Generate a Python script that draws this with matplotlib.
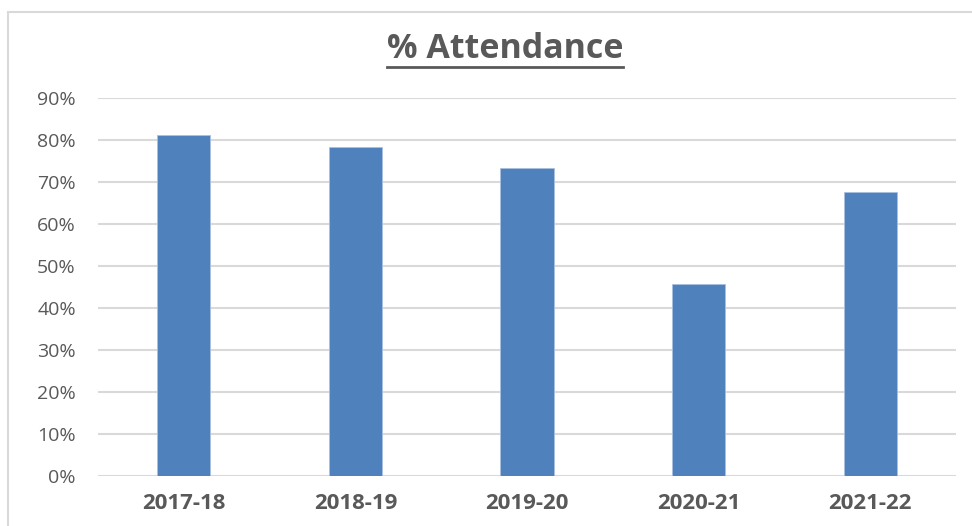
import matplotlib.pyplot as plt
from matplotlib.patches import Rectangle

seasons = ['2017-18', '2018-19', '2019-20', '2020-21', '2021-22']
attendance = [81.2, 78.3, 73.3, 45.7, 67.6]
y_ticks = [0, 10, 20, 30, 40, 50, 60, 70, 80, 90]

grey = '#595959'
bar_colour = '#4F81BD'

plt.rcParams['font.family'] = ['Open Sans', 'DejaVu Sans']

fig = plt.figure(figsize=(9.72, 5.26), dpi=100)
ax = fig.add_axes([98 / 972, 1 - 476 / 526, 858 / 972, 378 / 526])

# chart frame (only top/left visible in the crop)
fig.patches.append(Rectangle((7.5 / 972, -0.1), 1.2, 1 - 11.5 / 526 + 0.1,
                             transform=fig.transFigure, fill=False,
                             edgecolor='#D9D9D9', linewidth=1.5))

ax.bar(range(len(seasons)), attendance, width=0.31, color=bar_colour,
       edgecolor='#A9C0E0', linewidth=0.6, zorder=3)

ax.set_xlim(-0.5, len(seasons) - 0.5)
ax.set_ylim(0, 90)
ax.set_yticks(y_ticks)
ax.set_yticklabels(['%d%%' % t for t in y_ticks])
ax.set_xticks(range(len(seasons)))
ax.set_xticklabels(seasons, fontweight='bold')
ax.grid(axis='y', color='#D9D9D9', linewidth=1.5, zorder=0)
ax.tick_params(axis='both', length=0, colors=grey)
ax.tick_params(axis='x', pad=12, labelsize=16)
ax.tick_params(axis='y', pad=16, labelsize=14)
for s in ax.spines.values():
    s.set_visible(False)

title = fig.text(505 / 972, 1 - 49 / 526, '% Attendance', ha='center', va='center',
                 fontsize=24.5, fontweight='bold', color=grey)

# underline the title
fig.canvas.draw()
bb = title.get_window_extent().transformed(fig.transFigure.inverted())
fig.add_artist(plt.Line2D([bb.x0, bb.x1], [bb.y0 - 0.002, bb.y0 - 0.002],
                          transform=fig.transFigure, color=grey, linewidth=2))

fig.savefig('out.png', dpi=100)
